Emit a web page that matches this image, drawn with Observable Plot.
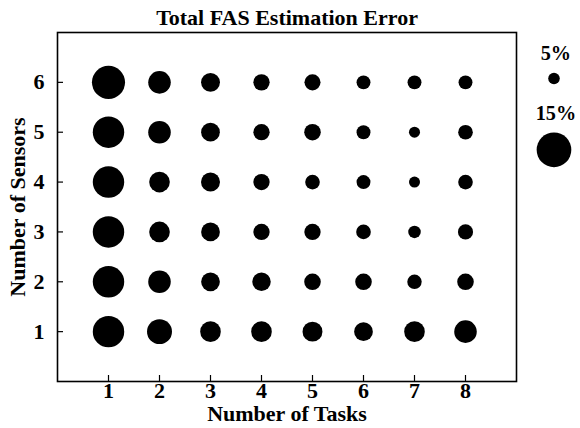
<!DOCTYPE html>
<html>
<head>
<meta charset="utf-8">
<script src="https://cdn.jsdelivr.net/npm/d3@7"></script>
<script src="https://cdn.jsdelivr.net/npm/@observablehq/plot@0.6"></script>
<style>
  body { margin: 0; background: #fff; }
  #wrap { position: relative; width: 580px; height: 428px; }
  #legend { position: absolute; left: 527px; top: 0; }
  svg text { font-family: "Liberation Serif", "Times New Roman", serif; font-weight: bold; }
</style>
</head>
<body>
<div id="wrap"><div id="main"></div><div id="legend"></div></div>
<script>
const title = "Total FAS Estimation Error";
const xLabel = "Number of Tasks";
const yLabel = "Number of Sensors";
const tasks = [1, 2, 3, 4, 5, 6, 7, 8];
const sensors = [1, 2, 3, 4, 5, 6];
// estimated error (%) per sensor count (rows) and task count (columns)
const errSensors1 = [13.1, 10.4, 8.6, 8.6, 8.3, 7.8, 8.6, 9.4];
const errSensors2 = [13.1, 9.4, 7.8, 7.7, 6.9, 6.9, 6.0, 6.9];
const errSensors3 = [13.1, 8.6, 7.8, 6.8, 6.8, 6.1, 5.2, 6.3];
const errSensors4 = [13.1, 8.6, 7.9, 6.8, 6.1, 5.8, 4.6, 6.1];
const errSensors5 = [13.1, 9.4, 7.8, 6.8, 6.9, 5.8, 4.6, 6.1];
const errSensors6 = [13.8, 9.4, 7.9, 6.8, 6.7, 5.8, 5.8, 5.8];
const legendLabels = ["5%", "15%"];
const legendValues = [5, 15];

const rows = [errSensors1, errSensors2, errSensors3, errSensors4, errSensors5, errSensors6];
const data = [];
sensors.forEach((s, i) => tasks.forEach((t, j) => data.push({tasks: t, sensors: s, err: rows[i][j]})));

const rScale = {type: "linear", domain: [0, 15], range: [0, 18]};
const font = "Liberation Serif, Times New Roman, serif";

const main = Plot.plot({
  width: 580,
  height: 428,
  marginLeft: 57,
  marginRight: 64,
  marginTop: 32,
  marginBottom: 47,
  style: {fontFamily: font, fontWeight: "bold", fontSize: "22px", color: "black", background: "white"},
  x: {domain: [0, 9]},
  y: {domain: [0, 7]},
  r: rScale,
  marks: [
    Plot.axisX({ticks: tasks, tickSize: -6, text: null, label: null, strokeWidth: 1.2}),
    Plot.axisX({ticks: tasks, tickSize: 0, tickPadding: 1, tickFormat: d => String(d), label: null, fontSize: 22}),
    Plot.axisY({ticks: sensors, tickSize: -6, text: null, label: null, strokeWidth: 1.2}),
    Plot.axisY({ticks: sensors, tickSize: 0, tickPadding: 13, tickFormat: d => String(d), label: null, fontSize: 22}),
    Plot.frame({stroke: "black", strokeWidth: 1.6}),
    Plot.dot(data, {x: "tasks", y: "sensors", r: "err", fill: "black", stroke: null}),
    Plot.text([title], {frameAnchor: "top", lineAnchor: "middle", dy: -15, text: d => d, fontSize: 22, fontWeight: "bold"}),
    Plot.text([xLabel], {frameAnchor: "bottom", lineAnchor: "middle", dy: 32, text: d => d, fontSize: 22, fontWeight: "bold"}),
    Plot.text([yLabel], {frameAnchor: "left", textAnchor: "middle", lineAnchor: "middle", dx: -40, rotate: -90, text: d => d, fontSize: 22, fontWeight: "bold"})
  ]
});
document.getElementById("main").appendChild(main);

const legendData = legendLabels.map((l, i) => ({label: l, value: legendValues[i]}));
const legend = Plot.plot({
  width: 55,
  height: 180,
  margin: 0,
  style: {fontFamily: font, fontWeight: "bold", background: "transparent"},
  y: {type: "point", domain: legendLabels, range: [81, 155], padding: 0, axis: null},
  r: rScale,
  marks: [
    Plot.dot(legendData, {y: "label", r: "value", fill: "black", stroke: null}),
    Plot.text(legendData.slice(0, 1), {y: "label", text: "label", dx: 2, dy: -26, fontSize: 21, fontWeight: "bold"}),
    Plot.text(legendData.slice(1), {y: "label", text: "label", dx: 2, dy: -38, fontSize: 21, fontWeight: "bold"})
  ]
});
document.getElementById("legend").appendChild(legend);
</script>
</body>
</html>
